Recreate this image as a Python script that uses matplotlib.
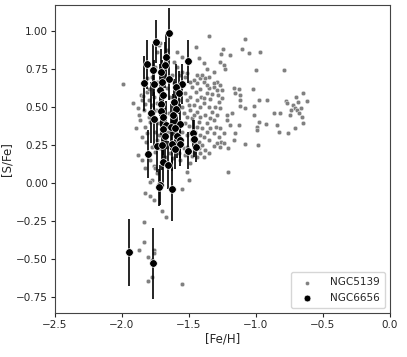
import numpy as np
import matplotlib
matplotlib.use("Agg")
import matplotlib.pyplot as plt
import seaborn as sns

# NGC5139 (omega Cen) -- [Fe/H], [S/Fe]
feh_5139 = [
    -1.353, -1.084, -1.45, -1.243, -1.106, -1.054, -0.971, -1.19, -1.263, -1.266,
    -1.236, -1.231, -0.999, -0.787, -1.425, -1.388, -1.363, -1.316, -1.348, -1.291,
    -1.266, -1.31, -1.16, -1.126, -1.024, -1.153, -1.118, -1.28, -1.253, -0.647,
    -0.704, -0.684, -0.622, -0.772, -0.765, -0.722, -0.712, -0.692, -0.667, -0.68,
    -0.735, -0.742, -0.659, -0.817, -0.867, -0.65, -0.712, -0.842, -0.827, -0.762,
    -0.916, -0.978, -1.016, -1.079, -1.116, -1.116, -1.016, -0.978, -0.928, -0.99,
    -0.99, -1.128, -1.178, -1.216, -1.158, -1.079, -0.986, -1.211, -1.261, -1.291,
    -1.209, -1.552,
    -1.415, -1.39, -1.44, -1.478, -1.42, -1.45, -1.365, -1.41, -1.34, -1.49,
    -1.515, -1.44, -1.39, -1.465, -1.353, -1.415, -1.49, -1.44, -1.328, -1.378,
    -1.415, -1.291, -1.316, -1.478, -1.428, -1.365, -1.503, -1.403, -1.341, -1.266,
    -1.453, -1.316, -1.39, -1.515, -1.353, -1.428, -1.316, -1.378, -1.415, -1.478,
    -1.353, -1.495, -1.515, -1.497, -1.552, -1.378, -1.527, -1.552, -1.59, -1.552,
    -1.615, -1.59, -1.515, -1.316, -1.465, -1.291, -1.278, -1.266, -1.216, -1.19,
    -1.278, -1.241, -1.166,
    -1.994, -1.921, -1.896, -1.877, -1.839, -1.877, -1.851, -1.864, -1.814, -1.801,
    -1.814, -1.777, -1.801, -1.826, -1.851, -1.826, -1.789, -1.764, -1.752, -1.74,
    -1.777, -1.789, -1.826, -1.789, -1.764, -1.702, -1.672, -1.68, -1.645, -1.62,
    -1.752, -1.727, -1.74, -1.715, -1.66, -1.665, -1.74, -1.764, -1.74, -1.777,
    -1.745, -1.727, -1.752, -1.72, -1.74, -1.777, -1.752, -1.715, -1.665, -1.68,
    -1.655, -1.63, -1.615, -1.64, -1.665, -1.615, -1.627, -1.565, -1.577, -1.552,
    -1.54, -1.552, -1.565, -1.54, -1.577, -1.527, -1.565, -1.832, -1.832, -1.869,
    -1.807, -1.759, -1.757, -1.779, -1.774, -1.807, -1.597, -1.65,
    -1.527, -1.502, -1.515, -1.527, -1.465, -1.49, -1.44, -1.415, -1.515, -1.453,
    -1.428, -1.478, -1.403, -1.365, -1.34, -1.303, -1.385, -1.348, -1.44, -1.49,
    -1.365, -1.328, -1.403, -1.253, -1.296, -1.266, -1.236, -1.465, -1.44, -1.39,
    -1.86, -1.83, -1.80, -1.79, -1.85, -1.82, -1.76, -1.87, -1.81, -1.84,
]
sfe_5139 = [
    0.969, 0.947, 0.897, 0.879, 0.879, 0.853, 0.862, 0.84, 0.846, 0.798,
    0.776, 0.748, 0.743, 0.743, 0.82, 0.787, 0.75, 0.732, 0.695, 0.667,
    0.645, 0.63, 0.627, 0.616, 0.616, 0.594, 0.579, 0.579, 0.559, 0.59,
    0.568, 0.535, 0.539, 0.542, 0.524, 0.513, 0.491, 0.48, 0.491, 0.458,
    0.48, 0.447, 0.432, 0.458, 0.458, 0.393, 0.36, 0.382, 0.338, 0.331,
    0.548, 0.548, 0.504, 0.491, 0.548, 0.509, 0.447, 0.40, 0.388, 0.371,
    0.349, 0.382, 0.458, 0.447, 0.331, 0.254, 0.248, 0.228, 0.272, 0.261,
    0.075, -0.667,
    0.689, 0.667, 0.656, 0.634, 0.616, 0.601, 0.594, 0.568, 0.553, 0.568,
    0.546, 0.546, 0.524, 0.513, 0.502, 0.498, 0.48, 0.469, 0.469, 0.447,
    0.436, 0.447, 0.414, 0.425, 0.403, 0.393, 0.375, 0.36, 0.36, 0.36,
    0.338, 0.327, 0.305, 0.316, 0.283, 0.272, 0.243, 0.217, 0.195, 0.178,
    0.195, 0.129, 0.075, 0.02, -0.042, 0.689, 0.70, 0.732, 0.864, 0.831,
    0.798, 0.765, 0.72, 0.66, 0.678, 0.612, 0.535, 0.491, 0.414, 0.382,
    0.305, 0.327, 0.283,
    0.649, 0.528, 0.364, 0.184, 0.48, 0.491, 0.546, 0.414, 0.601, 0.546,
    0.689, 0.70, 0.436, 0.371, 0.151, 0.096, 0.151, 0.112, 0.096, 0.064,
    0.02, 0.009, -0.064, -0.086, -0.112, -0.182, -0.226, 0.173, 0.195, 0.162,
    0.765, 0.908, 0.864, 0.919, 0.875, 0.809, 0.667, 0.568, 0.524, 0.513,
    0.48, 0.393, 0.338, 0.316, 0.283, 0.239, 0.206, 0.228, 0.239, 0.283,
    0.338, 0.404, 0.502, 0.568, 0.623, 0.656, 0.711, 0.711, 0.546, 0.502,
    0.458, 0.338, 0.283, 0.228, 0.195, 0.184, 0.151, -0.386, -0.254, -0.441,
    -0.485, -0.441, -0.463, -0.507, -0.621, -0.645, 0.327, 0.458,
    0.59, 0.513, 0.436, 0.393, 0.447, 0.327, 0.371, 0.316, 0.239, 0.239,
    0.228, 0.283, 0.25, 0.338, 0.425, 0.502, 0.557, 0.623, 0.711, 0.667,
    0.645, 0.585, 0.711, 0.612, 0.371, 0.239, 0.261, 0.195, 0.173, 0.173,
    0.58, 0.52, 0.62, 0.40, 0.30, 0.27, 0.47, 0.45, 0.33, 0.57,
]

# NGC6656 (M22) -- [Fe/H], [S/Fe], error on [S/Fe]
feh_6656 = [
    -1.749, -1.647, -1.67, -1.812, -1.68, -1.507, -1.77, -1.707, -1.839, -1.647,
    -1.757, -1.702, -1.552, -1.715, -1.597, -1.69, -1.577, -1.612, -1.705, -1.595,
    -1.784, -1.705, -1.764, -1.697, -1.62, -1.672, -1.565, -1.637, -1.695, -1.603,
    -1.675, -1.587, -1.47, -1.465, -1.742, -1.70, -1.63, -1.57, -1.57, -1.445,
    -1.603, -1.504, -1.807, -1.69, -1.657, -1.715, -1.727, -1.627, -1.949, -1.767,
]
sfe_6656 = [
    0.93, 0.987, 0.827, 0.78, 0.776, 0.80, 0.743, 0.732, 0.656, 0.684,
    0.649, 0.667, 0.649, 0.612, 0.629, 0.579, 0.594, 0.535, 0.522, 0.485,
    0.463, 0.474, 0.421, 0.436, 0.447, 0.382, 0.386, 0.366, 0.353, 0.36,
    0.311, 0.307, 0.327, 0.292, 0.243, 0.248, 0.257, 0.283, 0.254, 0.239,
    0.222, 0.213, 0.191, 0.138, 0.118, -0.013, -0.028, -0.039, -0.456, -0.528,
]
err_6656 = [
    0.14, 0.16, 0.15, 0.16, 0.15, 0.14, 0.17, 0.15, 0.18, 0.14,
    0.16, 0.14, 0.13, 0.17, 0.15, 0.16, 0.14, 0.15, 0.17, 0.15,
    0.20, 0.16, 0.18, 0.15, 0.14, 0.16, 0.13, 0.15, 0.17, 0.16,
    0.18, 0.14, 0.09, 0.12, 0.17, 0.16, 0.18, 0.12, 0.14, 0.10,
    0.13, 0.12, 0.16, 0.15, 0.16, 0.13, 0.12, 0.21, 0.22, 0.235,
]

sns.set_style("ticks")
plt.rcParams["font.family"] = ["DejaVu Sans"]

fig = plt.figure(figsize=(4.07, 3.57), dpi=100)
ax = fig.add_axes([0.135, 0.123, 0.823, 0.863])

ax.scatter(feh_5139, sfe_5139, s=11, color="gray", edgecolor="white",
           linewidth=0.3, label="NGC5139", zorder=2)
ax.errorbar(feh_6656, sfe_6656, yerr=err_6656, fmt="none", ecolor="black",
            elinewidth=1.2, zorder=3)
ax.scatter(feh_6656, sfe_6656, s=30, color="black", edgecolor="white",
           linewidth=0.5, label="NGC6656", zorder=4)

ax.set_xlim(-2.5, 0.0)
ax.set_ylim(-0.855, 1.17)
ax.set_xticks([-2.5, -2.0, -1.5, -1.0, -0.5, 0.0])
ax.set_yticks([-0.75, -0.5, -0.25, 0.0, 0.25, 0.5, 0.75, 1.0])
ax.set_yticklabels(["\u22120.75", "\u22120.50", "\u22120.25", "0.00",
                    "0.25", "0.50", "0.75", "1.00"])
ax.set_xlabel("[Fe/H]", fontsize=8.5, labelpad=2)
ax.set_ylabel("[S/Fe]", fontsize=8.5, labelpad=2)
ax.tick_params(labelsize=7.5, length=3, width=0.8, pad=2)
for sp in ax.spines.values():
    sp.set_color("#444444")
    sp.set_linewidth(0.8)

ax.legend(loc="lower right", fontsize=7.5, markerscale=0.9, frameon=True,
          borderpad=0.5, handletextpad=1.2)

fig.savefig("out.png", dpi=100)
